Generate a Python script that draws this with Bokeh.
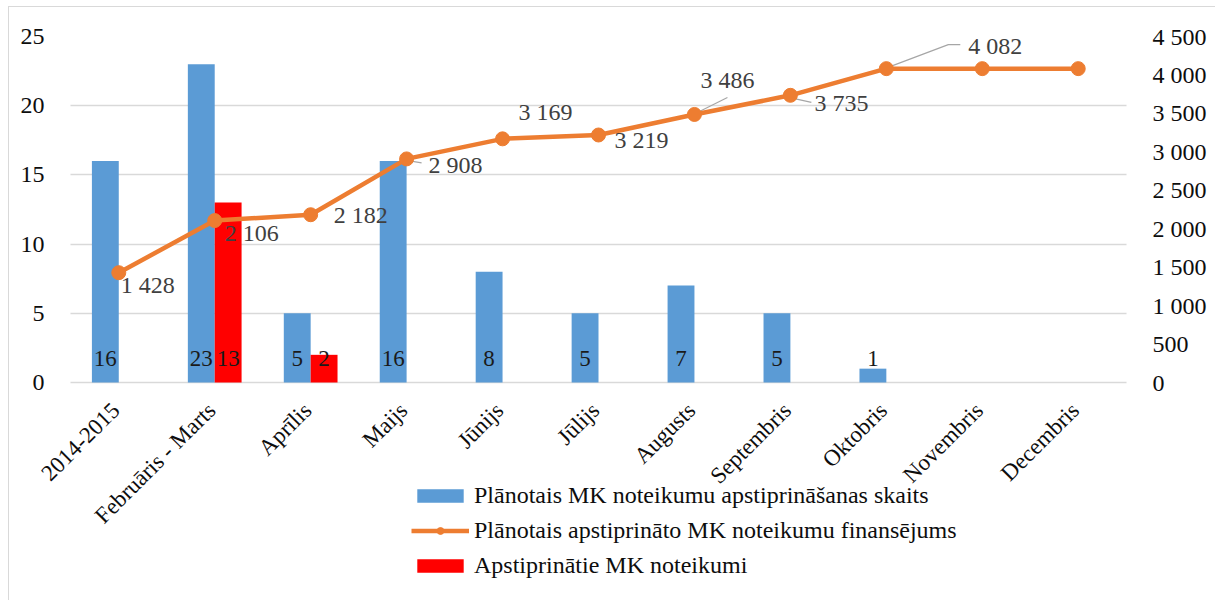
import math
from bokeh.plotting import figure
from bokeh.models import (Range1d, LinearAxis, FactorRange, ColumnDataSource,
                          Legend, LegendItem, FixedTicker)
from bokeh.transform import dodge
from bokeh.core.properties import value
from bokeh.embed import file_html
from bokeh.resources import INLINE

# ---------------- data ----------------
categories = ["2014-2015", "Februāris - Marts", "Aprīlis", "Maijs", "Jūnijs",
              "Jūlijs", "Augusts", "Septembris", "Oktobris", "Novembris", "Decembris"]
planned_count = [16, 23, 5, 16, 8, 5, 7, 5, 1, None, None]
approved_count = [None, 13, 2, None, None, None, None, None, None, None, None]
funding = [1428, 2106, 2182, 2908, 3169, 3219, 3486, 3735, 4082, 4082, 4082]
funding_labelled = [True, True, True, True, True, True, True, True, True, False, False]
left_ticks = [0, 5, 10, 15, 20, 25]
right_ticks = [0, 500, 1000, 1500, 2000, 2500, 3000, 3500, 4000, 4500]

series_names = ["Plānotais MK noteikumu apstiprināšanas skaits",
                "Plānotais apstiprināto MK noteikumu finansējums",
                "Apstiprinātie MK noteikumi"]

# ---------------- styling / label placement (screen px) ----------------
FONT = "Liberation Serif"
BLUE = "#5b9bd5"
RED = "#ff0000"
ORANGE = "#ed7d31"
GRID = "#d9d9d9"
LEFT_MAX = 25
RIGHT_MAX = 4500
# frame geometry (page px): the value axes span ZERO_Y..FRAME_TOP, the space
# below zero holds the category labels and the legend
FRAME_TOP, ZERO_Y, FRAME_BOTTOM = 36, 382, 596
CAT_PX = 96          # width of one category in px
PAD = 0.42           # extra frame on each side (in categories) for rotated labels
# line-label offsets (dx right, dy down), pixels
lbl_dx = [2, 10, 23, 22, 16, 16, 6, 24, 82, 0, 0]
lbl_dy = [12, 12, 0, 6, -27, 5, -34, 8, -23, 0, 0]
# leader lines: index -> list of (dx, dy-up) pixel offsets from the point
leaders = {3: [(3, -2), (15, -4)],
           6: [(3, 2), (33, 17)],
           7: [(3, -3), (21, -7)],
           8: [(1, 1), (62, 24), (74, 24)]}

def nanify(a):
    return [float("nan") if v is None else v for v in a]

below = (FRAME_BOTTOM - ZERO_Y) / (ZERO_Y - FRAME_TOP)
p = figure(x_range=FactorRange(*categories, range_padding=PAD,
                               range_padding_units="absolute"),
           y_range=Range1d(-LEFT_MAX * below, LEFT_MAX),
           width=1207, height=594, output_backend="svg", toolbar_location=None,
           min_border_left=21, min_border_right=50, min_border_top=29,
           min_border_bottom=5)
p.styles = {"margin-left": "8px", "margin-top": "6px",
            "border-left": "1px solid #d9d9d9", "border-top": "1px solid #d9d9d9"}
p.outline_line_color = None
p.xgrid.grid_line_color = None
p.ygrid.grid_line_color = GRID
p.ygrid.grid_line_width = 1.5
p.ygrid.cross_bounds = (0, len(categories))
p.extra_y_ranges = {"right": Range1d(-RIGHT_MAX * below, RIGHT_MAX)}

# bars
src = ColumnDataSource(dict(
    cat=categories,
    blue=nanify(planned_count),
    red=nanify(approved_count),
    blue_lbl=["" if v is None else str(v) for v in planned_count],
    red_lbl=["" if v is None else str(v) for v in approved_count],
))
r_blue = p.vbar(x=dodge("cat", -0.14, range=p.x_range), top="blue", bottom=0, width=0.28,
                source=src, fill_color=BLUE, line_color=None)
r_red = p.vbar(x=dodge("cat", 0.14, range=p.x_range), top="red", bottom=0, width=0.28,
               source=src, fill_color=RED, line_color=None)

for col, off in (("blue_lbl", -0.14), ("red_lbl", 0.14)):
    p.text(x=dodge("cat", off, range=p.x_range), y=0, text=col, source=src,
           text_align="center", text_baseline="middle", y_offset=-24,
           text_font=value(FONT), text_font_size="23px", text_color="#1a1a1a")

# category labels (rotated, below the zero line)
p.text(x=categories, y=[0] * len(categories), text=categories, angle=math.pi / 4,
       text_align="right", text_baseline="middle", x_offset=-3, y_offset=24,
       text_font=value(FONT), text_font_size="23px", text_color="#0d0d0d")

# leader lines
px_x = 1 / CAT_PX
px_y = RIGHT_MAX / (ZERO_Y - FRAME_TOP)
xs, ys = [], []
for i, pts in leaders.items():
    xs.append([i + 0.5 + dx * px_x for dx, dy in pts])
    ys.append([funding[i] + dy * px_y for dx, dy in pts])
p.multi_line(xs=xs, ys=ys, y_range_name="right", line_color="#a6a6a6", line_width=1.2)

# line
r_line = p.line(x=categories, y=funding, y_range_name="right", line_color=ORANGE,
                line_width=4.5)
r_pts = p.scatter(x=categories, y=funding, y_range_name="right", size=14,
                  fill_color=ORANGE, line_color=ORANGE)

def fmt(v):
    return f"{v:,}".replace(",", " ")

lsrc = ColumnDataSource(dict(
    cat=categories, y=funding,
    t=[fmt(v) if ok else "" for v, ok in zip(funding, funding_labelled)],
    dx=lbl_dx, dy=lbl_dy))
p.text(x="cat", y="y", text="t", source=lsrc, y_range_name="right",
       x_offset="dx", y_offset="dy", text_align="left", text_baseline="middle",
       text_font=value(FONT), text_font_size="24px", text_color="#404040")

# axes
p.xaxis.visible = False
p.yaxis.ticker = FixedTicker(ticks=left_ticks)
ax_r = LinearAxis(y_range_name="right", ticker=FixedTicker(ticks=right_ticks))
ax_r.major_label_overrides = {t: fmt(t) for t in right_ticks}
p.add_layout(ax_r, "right")

pad_px = round(PAD * CAT_PX)
for ax in [p.yaxis[0], ax_r]:
    ax.axis_line_color = None
    ax.major_tick_line_color = None
    ax.minor_tick_line_color = None
    ax.major_label_text_font = FONT
    ax.major_label_text_font_size = "24px"
    ax.major_label_text_color = "#0d0d0d"
    ax.major_label_standoff = 20 - pad_px

legend = Legend(items=[
    LegendItem(label=series_names[0], renderers=[r_blue]),
    LegendItem(label=series_names[1], renderers=[r_line, r_pts]),
    LegendItem(label=series_names[2], renderers=[r_red]),
], location=(341 + pad_px, 17), orientation="vertical", border_line_color=None,
    background_fill_alpha=0, padding=0, margin=0, spacing=7,
    glyph_width=58, glyph_height=17, label_standoff=5, label_height=28,
    label_text_font=FONT, label_text_font_size="24px", label_text_color="#0d0d0d")
p.add_layout(legend)

open("out.html", "w").write(file_html(p, INLINE))
